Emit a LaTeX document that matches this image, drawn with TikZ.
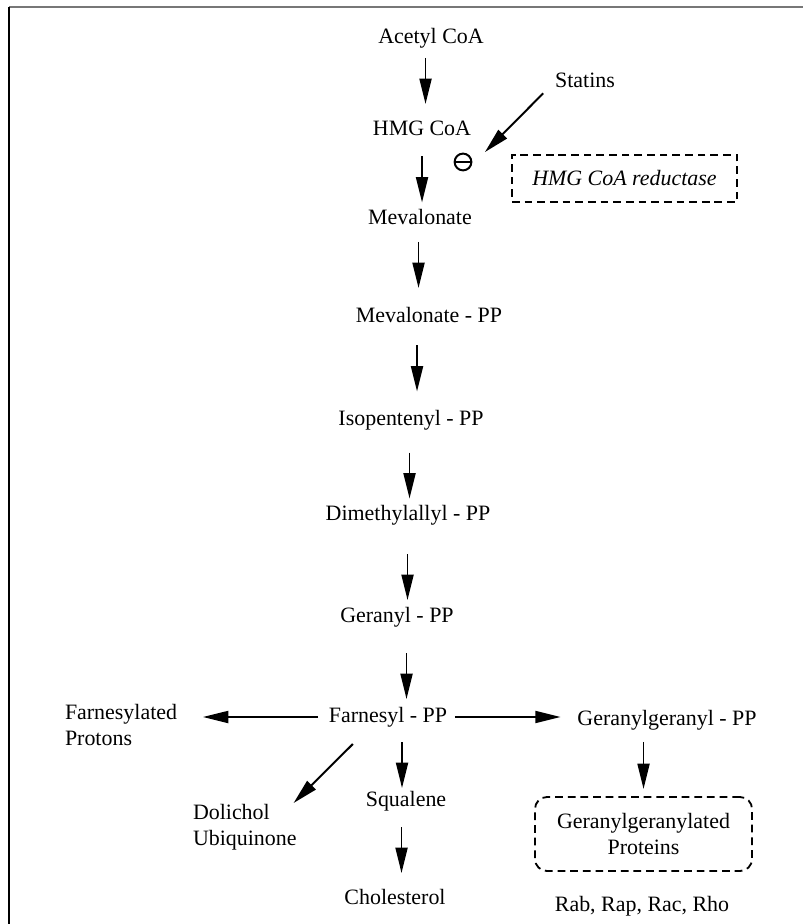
\documentclass[tikz,border=0pt]{standalone}
\usepackage{fontspec}
\setmainfont{Liberation Serif}
\definecolor{FrameGray}{HTML}{777777}
\usetikzlibrary{arrows.meta, calc, positioning}

\begin{document}
\begin{tikzpicture}[x=0.025cm, y=-0.025cm,
      every node/.style={inner sep=0pt, outer sep=0pt, font=\fontsize{15.6}{18.5}\selectfont},
      flow/.style={-{Triangle[length=18pt, width=8.5pt]}, line width=1.4pt},
      dashbox/.style={draw, line width=1.3pt, dash pattern=on 5.5pt off 3.5pt}]
   \useasboundingbox (0,0) rectangle (803,924);
   % Frame
   \draw[FrameGray, line width=1.5pt] (9,7) -- (803,7);
   \draw[line width=1.1pt] (9,7) -- (9,924);
   % Main pathway
   \node (acetyl) at (431,38) {Acetyl CoA};
   \node (hmg) at (422,128) {HMG CoA};
   \node (mev) at (420,217) {Mevalonate};
   \node (mevpp) at (429,315) {Mevalonate - PP};
   \node (ipp) at (411,420) {Isopentenyl - PP};
   \node (dmapp) at (408,515) {Dimethylallyl - PP};
   \node (gpp) at (397,617) {Geranyl - PP};
   \node (fpp) at (388,717) {Farnesyl - PP};
   \node (squalene) at (406,801) {Squalene};
   \node (chol) at (395,897) {Cholesterol};
   % Statins and reductase
   \node (statins) at (585,80) {Statins};
   \node[circle, draw, line width=1.4pt, minimum size=0.42cm] (minus) at (463,162) {};
   \draw[line width=1.4pt] (minus.west) -- (minus.east);
   \node[dashbox, minimum width=5.625cm, minimum height=1.175cm] (reductase) at (624.5,178.5)
      {\itshape HMG CoA reductase};
   % Branches
   \node[anchor=north west, align=left] (farnprot) at (65,704) {Farnesylated\\Protons};
   \node[anchor=north west, align=left] (dolichol) at (193,804) {Dolichol\\Ubiquinone};
   \node (ggpp) at (667,720) {Geranylgeranyl - PP};
   \node[dashbox, rounded corners=0.3cm, align=center, minimum width=5.425cm,
      minimum height=1.85cm] (ggprot) at (643.5,834) {Geranylgeranylated\\Proteins};
   \node (rab) at (642,906) {Rab, Rap, Rac, Rho};

   % Vertical steps: midpoint of each pair, nudged
   \foreach \a/\b/\dx/\dy in {acetyl/hmg/-1/-2, hmg/mev/1/7, mev/mevpp/-6/-1,
         mevpp/ipp/-3/1, ipp/dmapp/0/8, dmapp/gpp/5/11, gpp/fpp/14/9,
         fpp/squalene/5/6, squalene/chol/1/1}
      \draw[flow] ($(\a)!0.5!(\b)+(\dx,\dy-23)$) -- ($(\a)!0.5!(\b)+(\dx,\dy+23)$);
   % Inhibition
   \draw[flow] ([shift={(-12,6)}]statins.south west) -- ([shift={(16,-4)}]minus.north east);
   % Side branches of Farnesyl - PP
   \draw[flow, shorten <=7.6pt, shorten >=18.4pt] (fpp.west) -- (fpp.west -| farnprot.east);
   \draw[flow, shorten <=5.5pt, shorten >=12pt] (fpp.east) -- (fpp.east -| ggpp.west);
   \draw[flow] ([shift={(24,17)}]fpp.south west) -- ([shift={(-3,-1)}]dolichol.north east);
   \draw[flow, shorten <=8.5pt, shorten >=5.7pt] (ggprot.north |- ggpp.south) -- (ggprot.north);
\end{tikzpicture}
\end{document}
